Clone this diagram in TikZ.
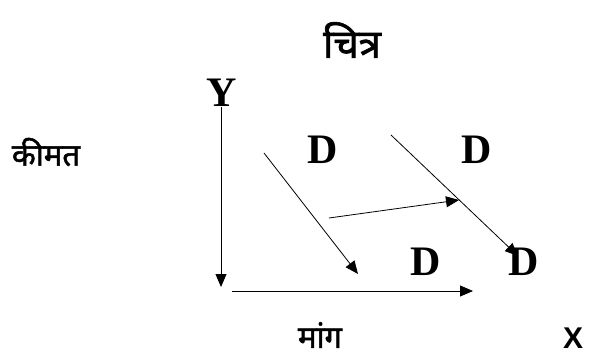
\documentclass[tikz,border=0pt]{standalone}
\usepackage{fontspec}
\setmainfont{Liberation Serif}
\newfontfamily\deva[Script=Devanagari,FakeBold=1.6]{Noto Sans}
\newfontfamily\lsans{Liberation Sans}
\usetikzlibrary{arrows.meta}
\begin{document}
\begin{tikzpicture}[x=1pt,y=-1pt,
  lbl/.style={inner sep=0pt,font=\fontsize{42}{42}\selectfont\bfseries},
  hin/.style={inner sep=0pt},
  arr/.style={line width=0.8pt,-{Triangle[length=13pt,width=11pt]}}]
\useasboundingbox (0,0) rectangle (589,358);
\node[hin,font=\deva\fontsize{40}{40}\selectfont] (title) at (352,40) {चित्र};
\node[hin,font=\deva\fontsize{31}{31}\selectfont] (price) at (46,152) {कीमत};
\node[hin,font=\deva\fontsize{31}{31}\selectfont] (qty) at (320,335) {मांग};
\node[inner sep=0pt,font=\lsans\fontsize{30}{30}\selectfont\bfseries] (xl) at (573,338) {X};
\node[lbl] (yl) at (222,93) {Y};
\node[lbl] (d1) at (323,150) {D};
\node[lbl] (d2) at (477,150) {D};
\node[lbl] (d3) at (426,262) {D};
\node[lbl] (d4) at (524,262) {D};
\coordinate (ytop) at (221,107);
\coordinate (ybot) at (221,287);
\coordinate (xl0) at (232,291);
\coordinate (xr) at (473,291);
\coordinate (a1) at (264,153);
\coordinate (b1) at (358,274);
\coordinate (a2) at (391,135);
\coordinate (b2) at (518,256);
\coordinate (a3) at (329,218);
\coordinate (b3) at (459,200);
\draw[arr] (ytop) -- (ybot);
\draw[arr] (xl0) -- (xr);
\draw[arr] (a1) -- (b1);
\draw[arr] (a2) -- (b2);
\draw[arr] (a3) -- (b3);
\end{tikzpicture}
\end{document}
